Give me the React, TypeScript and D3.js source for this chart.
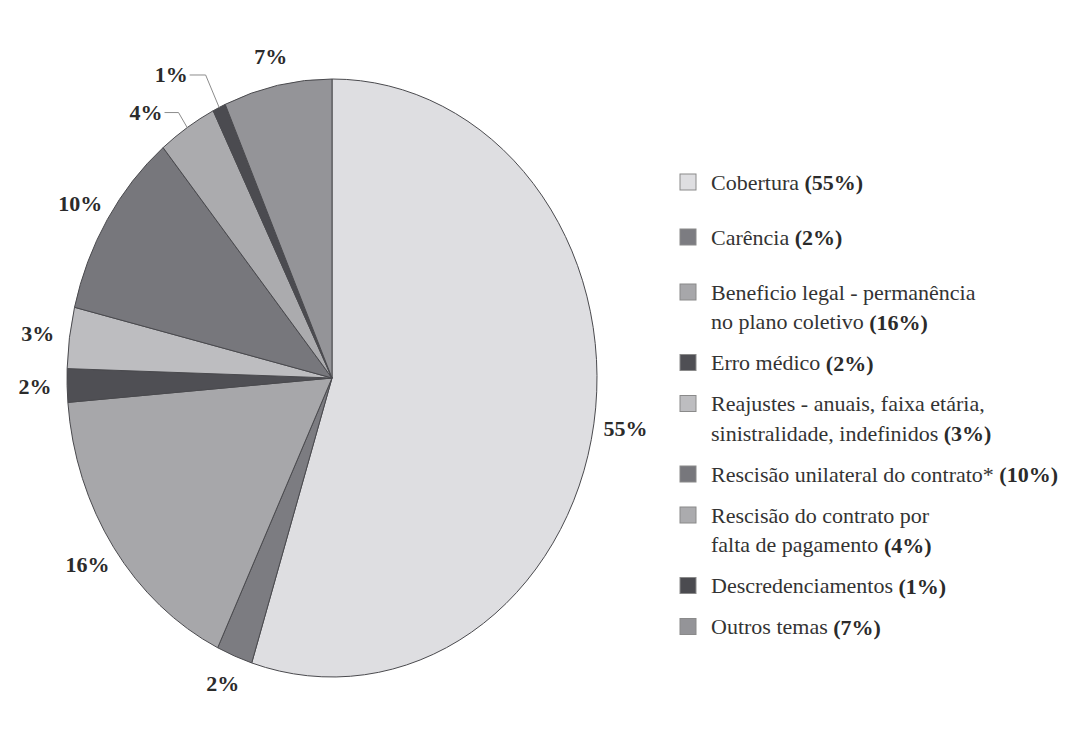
import React from 'react';
import * as d3 from 'd3';

const categories = [
  ['Cobertura'],
  ['Carência'],
  ['Beneficio legal - permanência', 'no plano coletivo'],
  ['Erro médico'],
  ['Reajustes - anuais, faixa etária,', 'sinistralidade, indefinidos'],
  ['Rescisão unilateral do contrato*'],
  ['Rescisão do contrato por', 'falta de pagamento'],
  ['Descredenciamentos'],
  ['Outros temas'],
];
const shares = [54.9, 2.2, 16.6, 1.8, 3.3, 10.2, 3.6, 0.8, 6.6];
const percentLabels = ['55%', '2%', '16%', '2%', '3%', '10%', '4%', '1%', '7%'];
const colors = ['#dedee1', '#7c7c81', '#a7a7aa', '#4f4f54', '#bdbdc0', '#77777c', '#ababae', '#4b4b50', '#949498'];

const W = 1079;
const H = 747;
const cx = 332;
const cy = 378;
const rx = 265;
const ry = 299;
const font = "'Liberation Serif', 'Times New Roman', Times, serif";

// labels that sit off the slice with a small leader line (elbow factor, horizontal run)
const leaders: Record<number, [number, number]> = { 6: [1.06, 14], 7: [1.12, 16] };

export default function App() {
  const pie = d3.pie<number>().sort(null).value(d => d);
  const arcs = pie(shares);
  const arc = d3.arc<d3.PieArcDatum<number>>().innerRadius(0).outerRadius(rx);

  // legend rows
  let y = 182;
  const legendRows = categories.map((lines, i) => {
    const row = { y, lines };
    y += (lines.length - 1) * 29.5 + (i < 2 ? 55 : 41);
    return row;
  });

  const textStyle = { fontFamily: font };

  return (
    <svg width={W} height={H} style={{ position: 'absolute', left: 0, top: 0, background: '#fff' }}>
      <g transform={`translate(${cx},${cy}) scale(1,${ry / rx})`}>
        {arcs.map((a, i) => (
          <path key={i} d={arc(a) as string} fill={colors[i]} stroke="#4a4a4e" strokeWidth={1}
            vectorEffect="non-scaling-stroke" />
        ))}
      </g>
      {arcs.map((a, i) => {
        const mid = (a.startAngle + a.endAngle) / 2;
        const s = Math.sin(mid);
        const c = Math.cos(mid);
        const lead = leaders[i];
        if (lead) {
          const [k, run] = lead;
          const x0 = cx + s * rx, y0 = cy - c * ry;
          const x1 = cx + s * rx * k, y1 = cy - c * ry * k;
          const x2 = x1 - run;
          return (
            <g key={i}>
              <polyline points={`${x0},${y0} ${x1},${y1} ${x2},${y1}`} fill="none" stroke="#8c8c8c" strokeWidth={1} />
              <text x={x2 - 2} y={y1} textAnchor="end" dominantBaseline="central" fontSize={22}
                fontWeight="bold" fill="#2b2b2b" style={textStyle}>{percentLabels[i]}</text>
            </g>
          );
        }
        return (
          <text key={i} x={cx + s * (rx + 32)} y={cy - c * (ry + 30)} textAnchor="middle"
            dominantBaseline="central" fontSize={22} fontWeight="bold" fill="#2b2b2b" style={textStyle}>
            {percentLabels[i]}
          </text>
        );
      })}
      {legendRows.map((r, i) => (
        <g key={i}>
          <rect x={680} y={r.y - 8} width={16} height={16} fill={colors[i]} stroke="#8a8a8a" strokeWidth={1} />
          {r.lines.map((line, j) => (
            <text key={j} x={711} y={r.y + j * 29.5} dominantBaseline="central" fontSize={22} fill="#333"
              style={textStyle}>
              {line}
              {j === r.lines.length - 1 && (
                <tspan fontWeight="bold" fill="#2b2b2b">{` (${percentLabels[i]})`}</tspan>
              )}
            </text>
          ))}
        </g>
      ))}
    </svg>
  );
}
